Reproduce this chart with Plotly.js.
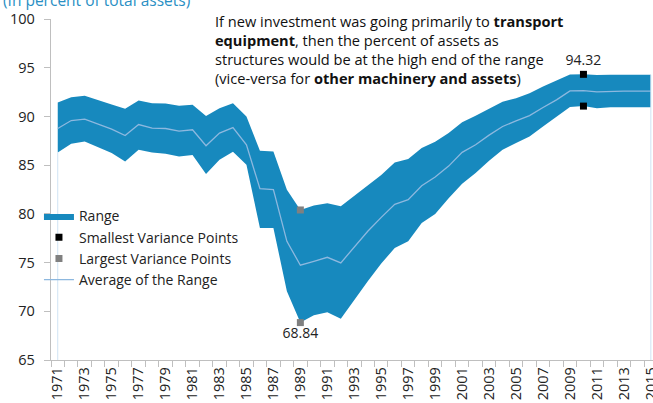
<!DOCTYPE html>
<html>
<head>
<meta charset="utf-8">
<script src="https://cdn.plot.ly/plotly-3.0.1.min.js"></script>
<style>html,body{margin:0;padding:0;background:#fff;}#chart{width:653px;height:403px;}</style>
</head>
<body>
<div id="chart"></div>
<script>
var years = [1971,1972,1973,1974,1975,1976,1977,1978,1979,1980,1981,1982,1983,1984,1985,1986,1987,1988,1989,1990,1991,1992,1993,1994,1995,1996,1997,1998,1999,2000,2001,2002,2003,2004,2005,2006,2007,2008,2009,2010,2011,2012,2013,2014,2015];
var upper = [91.42,91.98,92.11,91.7,91.22,90.78,91.63,91.36,91.32,91.09,91.19,90.05,90.85,91.36,90.0,86.48,86.4,82.48,80.4,80.87,81.1,80.77,81.86,82.89,83.98,85.28,85.62,86.75,87.4,88.3,89.41,90.06,90.78,91.5,91.87,92.39,93.07,93.68,94.3,94.32,94.26,94.28,94.28,94.28,94.28];
var average = [88.76,89.58,89.72,89.24,88.7,88.04,89.17,88.8,88.76,88.49,88.63,86.99,88.29,88.86,87.09,82.58,82.48,77.18,74.73,75.13,75.54,74.97,76.6,78.21,79.64,80.98,81.45,82.89,83.78,84.9,86.31,87.09,88.08,88.97,89.55,90.09,90.91,91.7,92.62,92.65,92.52,92.59,92.59,92.59,92.59];
var lower = [86.3,87.19,87.43,86.85,86.24,85.38,86.58,86.3,86.17,85.89,86.03,84.09,85.55,86.37,85.04,78.55,78.55,72.06,68.84,69.6,69.91,69.23,71.21,73.09,74.9,76.5,77.19,79.07,79.99,81.6,83.09,84.19,85.45,86.58,87.26,87.94,88.97,89.99,90.98,91.06,90.85,90.95,90.95,90.95,90.95];
var smallYears = [2010, 2010];
var smallVals = [94.32, 91.06];
var smallLabels = ['94.32', ''];
var largeYears = [1989, 1989];
var largeVals = [80.4, 68.84];
var largeLabels = ['', '68.84'];
var xTickLabels = [];
for (var i = 0; i < years.length; i += 2) xTickLabels.push(years[i]);

var FONT = 'Open Sans, Noto Sans, sans-serif';
var BLUE = '#1789be';
var AVG = '#8db8df';

var traces = [
  {x: years, y: lower, type: 'scatter', mode: 'lines', line: {width: 0, color: BLUE}, showlegend: false, hoverinfo: 'skip'},
  {x: years, y: upper, type: 'scatter', mode: 'lines', fill: 'tonexty', fillcolor: BLUE, line: {width: 0, color: BLUE}, name: 'Range', legendrank: 1},
  {x: years, y: average, type: 'scatter', mode: 'lines', line: {width: 1.3, color: AVG}, name: 'Average of the Range', legendrank: 4},
  {x: smallYears, y: smallVals, type: 'scatter', mode: 'markers+text', marker: {symbol: 'square', size: 7, color: '#000'}, text: smallLabels, textposition: 'top center', textfont: {family: FONT, size: 14, color: '#222'}, name: 'Smallest Variance Points', legendrank: 2, cliponaxis: false},
  {x: largeYears, y: largeVals, type: 'scatter', mode: 'markers+text', marker: {symbol: 'square', size: 7, color: '#808080'}, text: largeLabels, textposition: 'bottom center', textfont: {family: FONT, size: 14, color: '#222'}, name: 'Largest Variance Points', legendrank: 3, cliponaxis: false}
];

var layout = {
  width: 653, height: 403,
  margin: {l: 51, r: 0, t: 19, b: 42.5},
  paper_bgcolor: '#fff', plot_bgcolor: '#fff',
  font: {family: FONT, size: 14, color: '#222'},
  showlegend: true,
  legend: {x: -0.02, xanchor: 'left', y: 0.468, yanchor: 'top', traceorder: 'normal', bgcolor: 'rgba(0,0,0,0)', font: {family: FONT, size: 14, color: '#222'}, tracegroupgap: 0, itemwidth: 30},
  xaxis: {
    range: [1970.5, 2015.16], showgrid: false, zeroline: false,
    showline: true, linecolor: '#bfbfbf', linewidth: 1.3,
    tickmode: 'array', tickvals: xTickLabels, ticktext: xTickLabels.map(String),
    tickangle: -90, ticks: '', ticklen: 0, ticklabeloverflow: 'allow',
    tickfont: {family: FONT, size: 14.5, color: '#222'},
    minor: {tick0: 1970.5, dtick: 1, ticks: 'outside', ticklen: 6, tickcolor: '#bfbfbf', tickwidth: 1, showgrid: false}
  },
  yaxis: {
    range: [65, 100], showgrid: false, zeroline: false,
    showline: true, linecolor: '#bfbfbf', linewidth: 1.3,
    tickmode: 'array', tickvals: [65,70,75,80,85,90,95,100],
    ticks: 'outside', ticklen: 6, tickcolor: '#bfbfbf', ticklabelstandoff: 6,
    tickfont: {family: FONT, size: 14.5, color: '#222'}
  },
  shapes: [
    {type: 'line', xref: 'x', yref: 'y', x0: years[0], x1: years[0], y0: 65, y1: lower[0], line: {color: '#cfe3f3', width: 1}},
    {type: 'line', xref: 'x', yref: 'y', x0: years[years.length-1], x1: years[years.length-1], y0: 65, y1: upper[upper.length-1], line: {color: '#cfe3f3', width: 1}}
  ],
  annotations: [
    {xref: 'paper', yref: 'paper', x: -0.083, y: 1.056, xanchor: 'left', yanchor: 'middle', showarrow: false, text: '(In percent of total assets)', font: {family: FONT, size: 15.5, color: '#2a8fc4'}},
    {xref: 'paper', yref: 'paper', x: 0.269, y: 0.912, xanchor: 'left', yanchor: 'middle', align: 'left', showarrow: false,
     text: 'If new investment was going primarily to <b>transport</b><br><b>equipment</b>, then the percent of assets as<br>structures would be at the high end of the range<br>(vice-versa for <b>other machinery and assets</b>)',
     font: {family: FONT, size: 14.6, color: '#111'}}
  ]
};

Plotly.newPlot('chart', traces, layout, {displayModeBar: false, staticPlot: true});
</script>
</body>
</html>
